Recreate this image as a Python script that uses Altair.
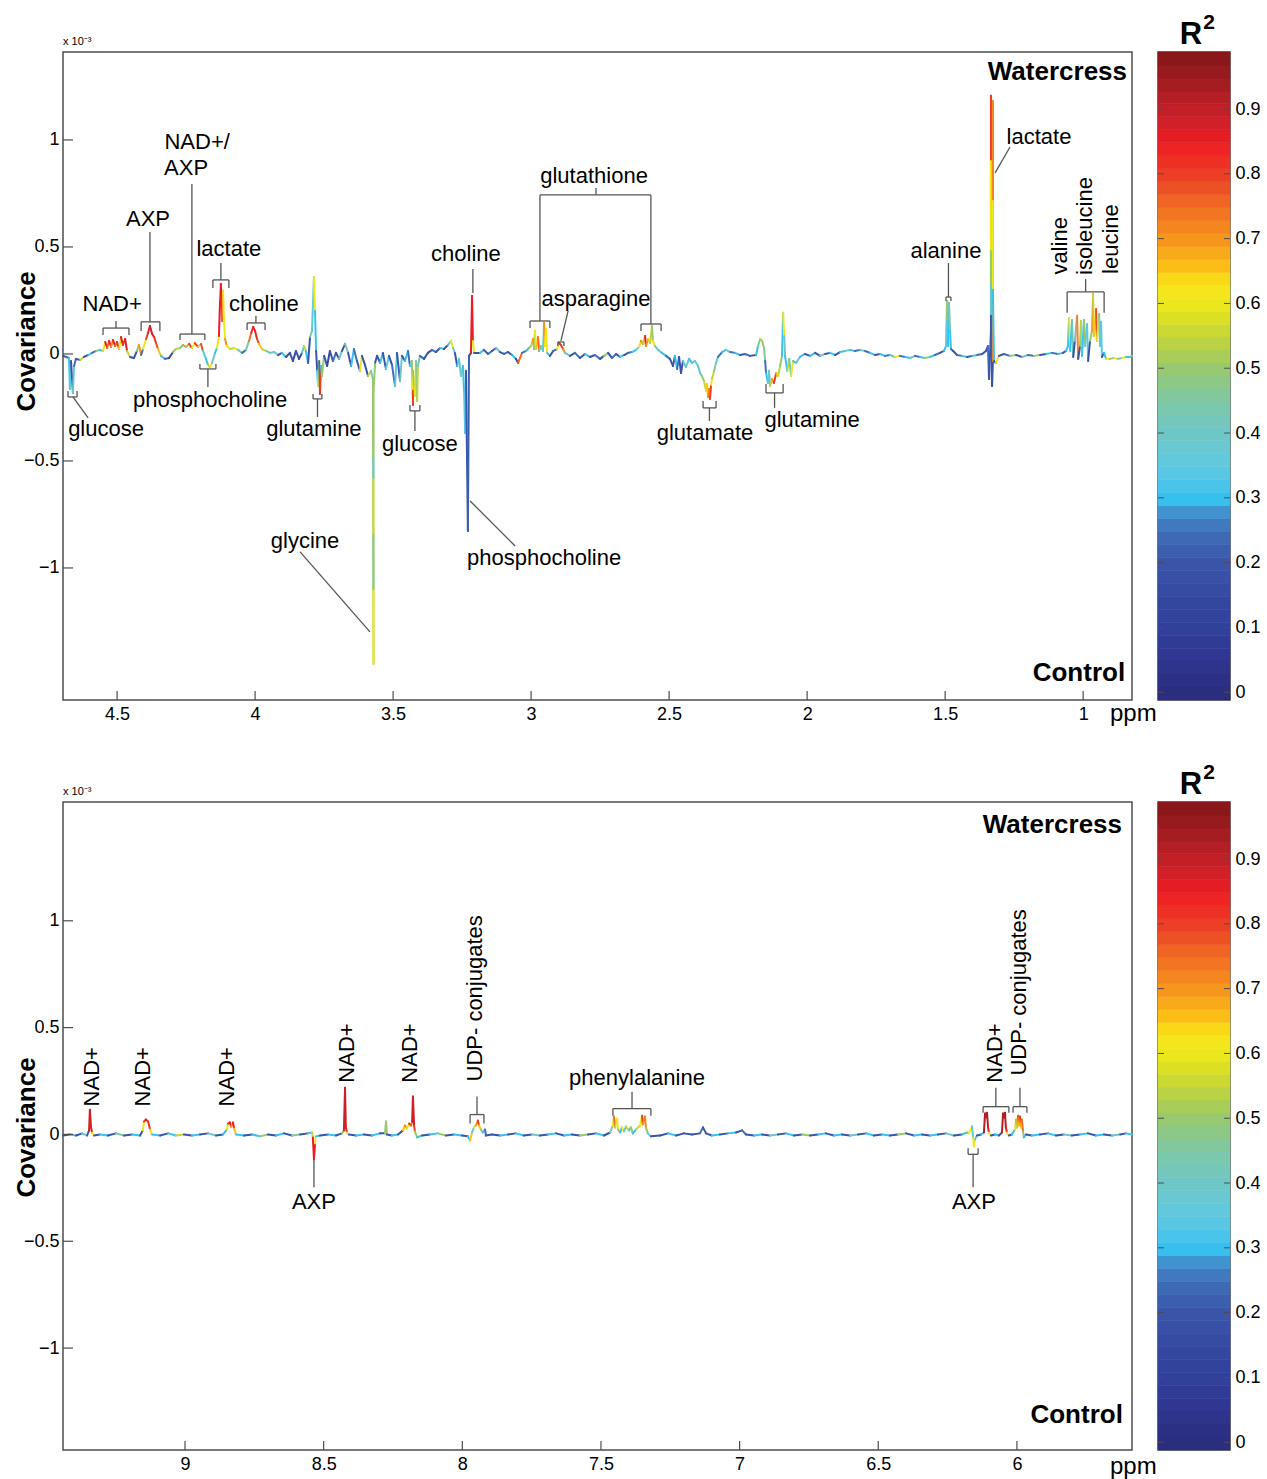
import altair as alt
import pandas as pd

FONT = "Liberation Sans"
W, H = 1069, 648
CB_W = 72

# ---------------- top panel trace (ppm, covariance x1e-3, R2) ----------------
TOP_PPM = [
    4.695, 4.685, 4.674, 4.671, 4.667, 4.660, 4.656, 4.649, 4.634, 4.620,
    4.605, 4.591, 4.576, 4.562, 4.551, 4.543, 4.536, 4.529, 4.522, 4.515,
    4.507, 4.500, 4.493, 4.486, 4.479, 4.471, 4.464, 4.453, 4.439, 4.428,
    4.421, 4.413, 4.406, 4.395, 4.388, 4.381, 4.373, 4.366, 4.359, 4.352,
    4.341, 4.326, 4.312, 4.297, 4.287, 4.272, 4.261, 4.250, 4.239, 4.229,
    4.218, 4.207, 4.196, 4.189, 4.178, 4.171, 4.163, 4.156, 4.145, 4.138,
    4.131, 4.127, 4.124, 4.120, 4.116, 4.113, 4.109, 4.102, 4.091, 4.076,
    4.062, 4.047, 4.033, 4.022, 4.014, 4.007, 4.000, 3.993, 3.986, 3.975,
    3.960, 3.946, 3.931, 3.917, 3.903, 3.888, 3.874, 3.863, 3.852, 3.841,
    3.830, 3.823, 3.816, 3.808, 3.801, 3.794, 3.790, 3.787, 3.783, 3.779,
    3.775, 3.772, 3.768, 3.765, 3.761, 3.758, 3.750, 3.739, 3.729, 3.718,
    3.707, 3.696, 3.685, 3.674, 3.663, 3.652, 3.642, 3.631, 3.620, 3.613,
    3.602, 3.591, 3.580, 3.573, 3.571, 3.571, 3.571, 3.571, 3.571, 3.571,
    3.565, 3.558, 3.547, 3.537, 3.526, 3.515, 3.504, 3.493, 3.486, 3.475,
    3.468, 3.457, 3.446, 3.439, 3.432, 3.428, 3.428, 3.428, 3.421, 3.417,
    3.413, 3.410, 3.403, 3.388, 3.374, 3.359, 3.345, 3.330, 3.316, 3.301,
    3.290, 3.283, 3.276, 3.268, 3.261, 3.254, 3.247, 3.243, 3.239, 3.236,
    3.229, 3.225, 3.218, 3.214, 3.211, 3.207, 3.185, 3.171, 3.156, 3.142,
    3.127, 3.113, 3.098, 3.084, 3.069, 3.055, 3.047, 3.033, 3.018, 3.008,
    3.000, 2.993, 2.989, 2.986, 2.982, 2.975, 2.971, 2.964, 2.957, 2.953,
    2.950, 2.946, 2.942, 2.932, 2.920, 2.906, 2.899, 2.892, 2.884, 2.877,
    2.859, 2.841, 2.823, 2.805, 2.787, 2.769, 2.750, 2.736, 2.721, 2.707,
    2.692, 2.678, 2.663, 2.649, 2.634, 2.620, 2.609, 2.602, 2.595, 2.587,
    2.584, 2.577, 2.569, 2.562, 2.559, 2.551, 2.540, 2.526, 2.511, 2.497,
    2.486, 2.479, 2.471, 2.464, 2.457, 2.450, 2.439, 2.428, 2.417, 2.406,
    2.395, 2.388, 2.381, 2.374, 2.366, 2.363, 2.359, 2.355, 2.352, 2.348,
    2.345, 2.337, 2.330, 2.323, 2.308, 2.294, 2.279, 2.261, 2.243, 2.225,
    2.207, 2.185, 2.178, 2.170, 2.163, 2.156, 2.152, 2.149, 2.142, 2.138,
    2.134, 2.127, 2.120, 2.112, 2.105, 2.098, 2.091, 2.087, 2.083, 2.080,
    2.072, 2.065, 2.058, 2.051, 2.040, 2.026, 2.008, 1.989, 1.971, 1.953,
    1.935, 1.917, 1.899, 1.881, 1.863, 1.845, 1.827, 1.808, 1.790, 1.772,
    1.754, 1.736, 1.718, 1.700, 1.682, 1.664, 1.645, 1.627, 1.609, 1.591,
    1.573, 1.555, 1.537, 1.519, 1.504, 1.497, 1.493, 1.493, 1.489, 1.486,
    1.482, 1.479, 1.471, 1.457, 1.439, 1.421, 1.402, 1.384, 1.366, 1.352,
    1.345, 1.341, 1.334, 1.334, 1.334, 1.334, 1.334, 1.334, 1.330, 1.327,
    1.327, 1.327, 1.327, 1.323, 1.316, 1.305, 1.287, 1.265, 1.243, 1.221,
    1.200, 1.178, 1.156, 1.134, 1.113, 1.091, 1.073, 1.062, 1.055, 1.051,
    1.047, 1.040, 1.036, 1.030, 1.022, 1.018, 1.011, 1.008, 1.004, 0.997,
    0.993, 0.986, 0.982, 0.975, 0.968, 0.964, 0.961, 0.953, 0.950, 0.942,
    0.939, 0.935, 0.932, 0.924, 0.917, 0.903, 0.888, 0.874, 0.859, 0.845,
    0.830, 0.823,
]
TOP_COV = [
    -0.009, -0.014, -0.019, -0.164, -0.033, -0.182, -0.056, -0.023, -0.028, -0.014,
    -0.005, 0.005, 0.014, 0.019, 0.014, 0.056, 0.028, 0.061, 0.033, 0.065,
    0.037, 0.056, 0.023, 0.079, 0.042, 0.070, 0.014, -0.014, -0.019, 0.014,
    0.042, -0.005, 0.023, 0.070, 0.098, 0.131, 0.093, 0.079, 0.051, 0.023,
    -0.009, -0.023, -0.019, 0.009, 0.023, 0.028, 0.042, 0.033, 0.047, 0.028,
    0.051, 0.033, 0.047, 0.014, -0.023, -0.051, -0.061, -0.042, 0.005, 0.028,
    0.084, 0.248, 0.327, 0.154, 0.294, 0.164, 0.070, 0.037, 0.023, 0.028,
    0.019, 0.005, 0.019, 0.061, 0.098, 0.126, 0.107, 0.070, 0.047, 0.023,
    0.014, 0.005, 0.009, -0.005, 0.005, -0.014, 0.005, -0.033, 0.014, -0.023,
    0.005, 0.037, 0.014, -0.042, 0.079, 0.107, 0.248, 0.360, 0.201, 0.014,
    -0.079, -0.150, -0.033, -0.187, -0.056, -0.103, -0.009, -0.056, 0.014, -0.033,
    0.005, -0.023, 0.014, 0.047, 0.005, -0.056, 0.023, -0.033, -0.079, -0.009,
    -0.051, -0.103, -0.079, -0.117, -1.449, -1.098, -0.841, -0.579, -0.486, -0.173,
    -0.040, -0.009, -0.042, 0.005, -0.070, -0.009, -0.051, -0.150, 0.005, -0.126,
    -0.009, -0.033, 0.014, -0.056, -0.033, -0.238, -0.164, -0.079, -0.196, -0.033,
    -0.220, -0.056, -0.009, -0.023, 0.005, 0.019, 0.009, 0.028, 0.023, 0.042,
    0.061, 0.028, 0.005, -0.056, -0.023, -0.103, -0.056, -0.173, -0.369, -0.079,
    -0.827, -0.009, 0.005, 0.271, 0.061, 0.005, 0.005, 0.019, 0.000, 0.014,
    0.028, 0.009, 0.000, 0.009, -0.005, -0.023, -0.042, 0.005, 0.014, 0.028,
    0.037, 0.070, 0.023, 0.107, 0.023, 0.079, 0.014, 0.037, 0.014, 0.145,
    0.037, 0.117, 0.005, -0.009, 0.014, 0.023, 0.051, 0.042, 0.023, 0.005,
    -0.009, 0.005, -0.019, 0.000, -0.014, -0.005, -0.023, -0.009, 0.005, -0.019,
    0.000, -0.014, -0.005, 0.005, 0.009, 0.019, 0.033, 0.061, 0.047, 0.084,
    0.037, 0.070, 0.051, 0.131, 0.061, 0.037, 0.019, 0.005, -0.009, -0.023,
    -0.056, -0.009, -0.070, -0.014, -0.089, -0.033, -0.061, -0.023, -0.042, -0.033,
    -0.056, -0.089, -0.103, -0.126, -0.173, -0.140, -0.201, -0.164, -0.210, -0.145,
    -0.117, -0.079, -0.042, -0.014, 0.009, 0.019, 0.009, 0.005, -0.005, 0.000,
    -0.009, -0.005, 0.037, 0.070, 0.061, 0.028, -0.033, -0.089, -0.136, -0.079,
    -0.150, -0.117, -0.136, -0.089, -0.103, -0.056, -0.009, 0.192, 0.084, -0.009,
    -0.079, -0.023, -0.103, -0.033, -0.042, -0.014, 0.000, -0.009, 0.005, -0.009,
    0.000, 0.005, -0.005, 0.009, 0.014, 0.019, 0.014, 0.019, 0.014, 0.005,
    -0.005, 0.000, -0.009, -0.005, -0.014, -0.009, -0.014, -0.019, -0.009, -0.014,
    -0.019, -0.014, -0.005, 0.005, 0.014, 0.037, 0.248, 0.154, 0.037, 0.238,
    0.107, 0.023, 0.014, -0.005, -0.009, -0.014, -0.009, -0.005, 0.000, 0.014,
    0.037, -0.117, 0.107, 1.206, 0.902, 0.481, 0.327, 0.178, -0.150, -0.033,
    1.182, 0.715, 0.300, -0.033, -0.042, -0.009, 0.000, -0.009, -0.005, -0.014,
    -0.005, -0.009, -0.005, 0.000, 0.005, 0.000, 0.005, 0.014, 0.037, 0.168,
    0.014, 0.159, -0.014, 0.061, 0.178, -0.023, 0.037, 0.154, -0.009, 0.159,
    0.037, 0.140, -0.033, 0.061, 0.107, 0.280, 0.084, 0.210, 0.061, 0.187,
    0.037, 0.150, -0.014, 0.005, -0.023, -0.023, -0.019, -0.023, -0.019, -0.014,
    -0.014, -0.009,
]
TOP_R2 = [
    .2, .25, .3, .35, .2, .38, .25, .2, .55, .2,
    .3, .25, .45, .3, .6, .85, .75, .85, .7, .85,
    .75, .82, .6, .88, .8, .86, .55, .2, .2, .5,
    .7, .25, .6, .8, .85, .88, .85, .82, .78, .65,
    .3, .2, .15, .5, .55, .45, .7, .5, .8, .6,
    .8, .55, .78, .35, .3, .55, .62, .4, .3, .6,
    .85, .8, .85, .75, .62, .6, .7, .6, .55, .6,
    .4, .25, .45, .75, .82, .85, .83, .78, .65, .55,
    .45, .35, .4, .2, .3, .15, .2, .15, .2, .15,
    .35, .55, .3, .2, .45, .35, .4, .6, .3, .2,
    .3, .6, .25, .8, .3, .5, .2, .15, .2, .25,
    .15, .4, .2, .45, .2, .3, .25, .2, .6, .2,
    .2, .55, .45, .5, .63, .48, .56, .38, .5, .5,
    .2, .2, .3, .2, .35, .2, .25, .35, .2, .4,
    .2, .3, .25, .35, .5, .8, .6, .5, .6, .45,
    .55, .4, .25, .2, .2, .25, .2, .3, .2, .35,
    .6, .4, .2, .3, .4, .45, .3, .35, .33, .2,
    .22, .2, .85, .85, .62, .2, .3, .2, .25, .2,
    .35, .2, .25, .2, .3, .15, .75, .25, .3, .45,
    .55, .7, .5, .62, .65, .75, .4, .5, .35, .7,
    .6, .62, .3, .2, .25, .6, .82, .8, .7, .4,
    .2, .25, .2, .3, .2, .25, .2, .5, .2, .25,
    .2, .3, .2, .25, .3, .35, .6, .72, .55, .85,
    .7, .65, .55, .5, .6, .45, .35, .3, .25, .2,
    .2, .3, .25, .2, .2, .35, .4, .3, .35, .4,
    .35, .4, .5, .55, .62, .65, .72, .7, .8, .62,
    .55, .45, .35, .25, .3, .4, .25, .3, .2, .25,
    .2, .3, .45, .55, .5, .45, .25, .3, .35, .4,
    .55, .7, .8, .65, .55, .5, .3, .62, .4, .3,
    .55, .4, .6, .3, .4, .3, .2, .3, .2, .4,
    .2, .3, .2, .3, .4, .3, .25, .35, .25, .3,
    .2, .3, .25, .35, .6, .25, .3, .4, .25, .3,
    .5, .3, .25, .2, .3, .35, .5, .35, .3, .45,
    .3, .25, .2, .25, .3, .2, .3, .25, .2, .2,
    .25, .2, .2, .8, .62, .5, .38, .2, .2, .72,
    .72, .6, .3, .2, .6, .2, .25, .5, .2, .4,
    .25, .5, .2, .3, .25, .3, .2, .3, .3, .6,
    .3, .4, .2, .4, .72, .2, .4, .55, .3, .5,
    .4, .35, .2, .5, .7, .55, .65, .78, .6, .45,
    .35, .35, .2, .3, .6, .5, .6, .4, .6, .3,
    .4, .3,
]

# ---------------- bottom panel trace ----------------
BOT_PPM = [
    9.440, 9.415, 9.393, 9.371, 9.353, 9.346, 9.343, 9.339, 9.335, 9.328,
    9.307, 9.278, 9.249, 9.220, 9.191, 9.162, 9.152, 9.148, 9.141, 9.133,
    9.126, 9.119, 9.090, 9.061, 9.033, 9.004, 8.975, 8.946, 8.917, 8.888,
    8.863, 8.849, 8.845, 8.838, 8.834, 8.827, 8.823, 8.816, 8.787, 8.758,
    8.730, 8.701, 8.672, 8.643, 8.614, 8.585, 8.557, 8.542, 8.539, 8.535,
    8.531, 8.528, 8.513, 8.484, 8.456, 8.434, 8.427, 8.423, 8.420, 8.416,
    8.409, 8.383, 8.355, 8.326, 8.297, 8.279, 8.275, 8.272, 8.254, 8.232,
    8.214, 8.207, 8.200, 8.192, 8.185, 8.181, 8.178, 8.174, 8.171, 8.163,
    8.145, 8.117, 8.088, 8.059, 8.030, 8.001, 7.980, 7.972, 7.965, 7.958,
    7.951, 7.944, 7.940, 7.933, 7.926, 7.918, 7.915, 7.893, 7.864, 7.835,
    7.807, 7.778, 7.749, 7.720, 7.691, 7.662, 7.633, 7.605, 7.576, 7.547,
    7.518, 7.489, 7.467, 7.457, 7.453, 7.449, 7.442, 7.439, 7.431, 7.424,
    7.417, 7.410, 7.399, 7.392, 7.385, 7.374, 7.359, 7.352, 7.349, 7.341,
    7.338, 7.331, 7.320, 7.287, 7.258, 7.229, 7.201, 7.172, 7.143, 7.132,
    7.121, 7.100, 7.071, 7.042, 7.013, 6.991, 6.977, 6.948, 6.919, 6.891,
    6.862, 6.833, 6.804, 6.775, 6.746, 6.717, 6.689, 6.660, 6.631, 6.602,
    6.573, 6.544, 6.516, 6.487, 6.458, 6.429, 6.400, 6.371, 6.342, 6.314,
    6.285, 6.256, 6.227, 6.198, 6.180, 6.173, 6.162, 6.158, 6.155, 6.151,
    6.144, 6.129, 6.119, 6.115, 6.112, 6.108, 6.104, 6.101, 6.094, 6.079,
    6.065, 6.054, 6.050, 6.047, 6.043, 6.040, 6.036, 6.029, 6.018, 6.007,
    6.003, 6.000, 5.996, 5.993, 5.989, 5.985, 5.982, 5.978, 5.975, 5.967,
    5.946, 5.917, 5.888, 5.859, 5.831, 5.802, 5.773, 5.744, 5.715, 5.686,
    5.657, 5.628, 5.607, 5.585,
]
BOT_COV = [
    -0.005, 0.000, -0.005, 0.005, -0.005, 0.019, 0.116, 0.033, 0.009, -0.005,
    0.000, -0.005, 0.005, -0.005, 0.000, -0.005, 0.019, 0.060, 0.070, 0.060,
    0.023, 0.000, -0.005, 0.005, -0.005, 0.000, -0.005, 0.000, 0.005, -0.005,
    0.000, 0.023, 0.051, 0.056, 0.037, 0.056, 0.028, 0.000, -0.005, 0.000,
    -0.009, 0.000, -0.005, 0.005, -0.005, 0.000, 0.005, 0.009, -0.014, -0.116,
    -0.042, -0.009, -0.005, 0.000, -0.005, 0.005, 0.019, 0.219, 0.033, 0.009,
    0.000, -0.005, 0.000, -0.005, 0.005, 0.005, 0.060, 0.000, -0.005, 0.000,
    0.019, 0.042, 0.028, 0.051, 0.042, 0.060, 0.177, 0.042, 0.014, -0.014,
    -0.005, 0.000, 0.005, -0.005, 0.000, -0.005, -0.009, -0.028, 0.009, 0.033,
    0.042, 0.065, 0.042, 0.023, 0.009, 0.023, -0.005, 0.000, -0.005, 0.000,
    0.005, -0.005, 0.000, -0.005, 0.000, 0.005, -0.005, 0.000, -0.005, 0.000,
    0.005, -0.005, 0.009, 0.042, 0.084, 0.033, 0.074, 0.023, 0.009, 0.033,
    0.014, 0.037, 0.019, 0.033, 0.005, 0.023, 0.042, 0.088, 0.047, 0.084,
    0.033, 0.005, -0.009, -0.005, 0.005, -0.005, 0.005, 0.000, 0.005, 0.033,
    0.005, -0.005, 0.000, 0.005, 0.009, 0.019, 0.000, -0.005, 0.000, -0.005,
    0.000, 0.005, -0.005, 0.000, -0.005, 0.000, 0.005, -0.005, 0.000, -0.005,
    0.000, 0.005, -0.005, 0.000, -0.005, 0.000, 0.005, -0.005, 0.000, -0.005,
    0.000, 0.005, -0.005, 0.000, 0.009, 0.005, 0.037, -0.014, -0.056, -0.023,
    -0.005, 0.000, 0.009, 0.098, 0.079, 0.102, 0.033, 0.009, -0.005, 0.000,
    -0.005, 0.009, 0.098, 0.079, 0.102, 0.033, 0.009, -0.005, 0.000, 0.023,
    0.070, 0.033, 0.088, 0.042, 0.084, 0.033, 0.070, 0.014, -0.014, 0.000,
    -0.005, 0.000, 0.005, -0.005, 0.000, -0.005, 0.000, 0.005, -0.005, 0.000,
    -0.005, 0.000, 0.005, 0.000,
]
BOT_R2 = [
    .2, .3, .2, .4, .2, .88, .88, .85, .6, .2,
    .3, .2, .45, .2, .3, .2, .6, .82, .85, .82,
    .6, .3, .2, .3, .55, .2, .3, .2, .4, .2,
    .3, .6, .82, .85, .7, .85, .65, .3, .2, .3,
    .5, .2, .3, .2, .45, .2, .3, .55, .85, .85,
    .6, .3, .2, .3, .2, .5, .88, .88, .85, .6,
    .2, .3, .2, .3, .2, .5, .5, .2, .3, .2,
    .65, .72, .6, .82, .75, .88, .88, .8, .5, .3,
    .2, .3, .5, .2, .3, .2, .3, .65, .4, .6,
    .7, .8, .65, .45, .3, .25, .2, .2, .3, .2,
    .3, .2, .4, .2, .3, .2, .3, .2, .5, .2,
    .3, .2, .45, .6, .75, .55, .62, .5, .3, .6,
    .35, .55, .35, .5, .3, .55, .6, .8, .7, .72,
    .5, .35, .2, .2, .3, .2, .2, .2, .25, .2,
    .2, .3, .2, .3, .2, .25, .2, .3, .2, .4,
    .2, .3, .2, .5, .2, .3, .2, .3, .2, .4,
    .2, .3, .2, .3, .2, .5, .2, .3, .2, .3,
    .2, .4, .2, .3, .5, .6, .35, .62, .62, .35,
    .2, .3, .92, .92, .9, .92, .85, .6, .2, .3,
    .2, .92, .92, .9, .92, .85, .6, .2, .3, .6,
    .7, .55, .78, .65, .8, .6, .75, .5, .3, .2,
    .3, .2, .3, .2, .4, .2, .3, .2, .3, .2,
    .4, .2, .3, .2,
]

# ---------------- annotations ----------------
TOP_LABEL_TEXT = ["NAD+", "AXP", "NAD+/", "AXP", "lactate", "choline", "phosphocholine",
                  "glucose", "glutamine", "glucose", "glycine", "phosphocholine", "choline",
                  "glutathione", "asparagine", "glutamate", "glutamine", "alanine", "lactate"]
TOP_LABEL_PPM = [4.518, 4.388, 4.210, 4.250, 4.095, 3.968, 4.163, 4.540, 3.787, 3.403,
                 3.819, 2.953, 3.236, 2.772, 2.765, 2.370, 1.982, 1.497, 1.160]
TOP_LABEL_COV = [0.234, 0.631, 0.991, 0.869, 0.491, 0.234, -0.215, -0.350, -0.350, -0.421,
                 -0.874, -0.953, 0.467, 0.832, 0.257, -0.369, -0.308, 0.481, 1.014]
TOP_VLABEL_TEXT = ["valine", "isoleucine", "leucine"]
TOP_VLABEL_PPM = [1.084, 0.993, 0.899]
TOP_VLABEL_COV = [0.505, 0.598, 0.537]
TOP_CORNER_TEXT = ["Watercress", "Control"]
TOP_CORNER_PPM = [0.841, 0.848]
TOP_CORNER_COV = [1.318, -1.491]

TOP_BRACKET_A = [4.678, 4.551, 4.413, 4.272, 4.153, 4.029, 4.200, 3.790, 3.439, 3.004,
                 2.602, 2.903, 2.377, 2.149, 1.497, 1.058]
TOP_BRACKET_B = [4.645, 4.457, 4.345, 4.182, 4.095, 3.964, 4.142, 3.758, 3.403, 2.932,
                 2.529, 2.881, 2.330, 2.087, 1.479, 0.924]
TOP_BRACKET_BAR = [-0.201, 0.121, 0.150, 0.093, 0.346, 0.145, -0.070, -0.210, -0.266, 0.154,
                   0.140, 0.056, -0.252, -0.182, 0.266, 0.290]
TOP_BRACKET_TIP = [-0.173, 0.089, 0.107, 0.065, 0.308, 0.112, -0.047, -0.187, -0.238, 0.121,
                   0.107, 0.037, -0.220, -0.140, 0.248, 0.192]
TOP_LEAD_X1 = [4.660, 4.504, 4.381, 4.229, 4.124, 3.997, 4.171, 3.774, 3.421, 3.837, 3.221,
               3.211, 2.968, 2.968, 2.566, 2.765, 2.866, 2.354, 2.118, 1.488, 1.265, 0.991]
TOP_LEAD_Y1 = [-0.201, 0.121, 0.150, 0.093, 0.346, 0.145, -0.070, -0.210, -0.266, -0.925, -0.687,
               0.397, 0.743, 0.743, 0.743, 0.743, 0.201, -0.252, -0.182, 0.266, 0.967, 0.290]
TOP_LEAD_X2 = [4.605, 4.504, 4.381, 4.229, 4.124, 3.997, 4.171, 3.774, 3.421, 3.584, 3.058,
               3.211, 2.566, 2.968, 2.566, 2.765, 2.892, 2.354, 2.118, 1.488, 1.319, 0.991]
TOP_LEAD_Y2 = [-0.299, 0.154, 0.570, 0.794, 0.425, 0.178, -0.154, -0.294, -0.360, -1.299, -0.897,
               0.285, 0.743, 0.154, 0.140, 0.776, 0.061, -0.313, -0.252, 0.425, 0.846, 0.350]

BOT_LABEL_TEXT = ["phenylalanine", "AXP", "AXP"]
BOT_LABEL_PPM = [7.370, 8.535, 6.155]
BOT_LABEL_COV = [0.265, -0.316, -0.316]
BOT_VLABEL_TEXT = ["NAD+", "NAD+", "NAD+", "NAD+", "NAD+", "UDP- conjugates", "NAD+", "UDP- conjugates"]
BOT_VLABEL_PPM = [9.335, 9.152, 8.849, 8.416, 8.189, 7.954, 6.079, 5.993]
BOT_VLABEL_COV = [0.270, 0.270, 0.270, 0.381, 0.381, 0.637, 0.381, 0.665]
BOT_CORNER_TEXT = ["Watercress", "Control"]
BOT_CORNER_PPM = [5.621, 5.618]
BOT_CORNER_COV = [1.447, -1.312]

BOT_BRACKET_A = [7.972, 7.457, 6.176, 6.122, 6.014]
BOT_BRACKET_B = [7.922, 7.320, 6.140, 6.029, 5.964]
BOT_BRACKET_BAR = [0.093, 0.121, -0.093, 0.130, 0.130]
BOT_BRACKET_TIP = [0.051, 0.088, -0.065, 0.102, 0.102]
BOT_LEAD_X1 = [7.947, 7.388, 8.535, 6.158, 6.076, 5.989]
BOT_LEAD_Y1 = [0.093, 0.121, -0.116, -0.093, 0.130, 0.130]
BOT_LEAD_X2 = [7.947, 7.388, 8.535, 6.158, 6.076, 5.989]
BOT_LEAD_Y2 = [0.177, 0.200, -0.247, -0.247, 0.219, 0.219]

TOP_XTICKS = [4.5, 4, 3.5, 3, 2.5, 2, 1.5, 1]
BOT_XTICKS = [9, 8.5, 8, 7.5, 7, 6.5, 6]
YTICKS = [-1, -0.5, 0, 0.5, 1]
CB_TICKS = [0, 0.1, 0.2, 0.3, 0.4, 0.5, 0.6, 0.7, 0.8, 0.9]

TOP_XDOM = [0.823, 4.696]
TOP_YDOM = [-1.617, 1.411]
BOT_XDOM = [5.585, 9.440]
BOT_YDOM = [-1.477, 1.556]
CB_DOM = [-0.012, 0.988]

STOPS = [0.0, 0.05, 0.1, 0.15, 0.2, 0.25, 0.28, 0.3, 0.33, 0.37, 0.4, 0.45, 0.5, 0.53,
         0.57, 0.6, 0.63, 0.65, 0.68, 0.7, 0.75, 0.78, 0.82, 0.85, 0.88, 0.92, 0.96, 1.0]
COLORS = ["#2b2d7f", "#2f3590", "#31409a", "#3549a1", "#3a55a8", "#3f6fb8", "#4196d2",
          "#36c3f1", "#56c7e8", "#67c9d6", "#6ec7c6", "#7ec8a5", "#97c96f", "#b3cf4a",
          "#d5dd28", "#ede81c", "#f8e51a", "#fcc514", "#f8a81a", "#f7941d", "#f16d22",
          "#ec4e25", "#ee2d24", "#ec1c24", "#cf2027", "#b21f24", "#961a1e", "#7c1416"]

assert len(TOP_PPM) == len(TOP_COV) == len(TOP_R2)
assert len(BOT_PPM) == len(BOT_COV) == len(BOT_R2)
assert len(STOPS) == len(COLORS)

color_scale = alt.Scale(domain=STOPS, range=COLORS, interpolate="rgb", clamp=True)
AX_COLOR = "#4d4d4d"


def seg_frame(ppm, cov, r2):
    return pd.DataFrame({"x": ppm[:-1], "x2": ppm[1:], "y": cov[:-1], "y2": cov[1:], "r2": r2[:-1]})


def bracket_frame(a, b, bar, tip, lx1, ly1, lx2, ly2):
    rows = []
    for p, q, m, t in zip(a, b, bar, tip):
        rows.append((p, q, m, m))
        rows.append((p, p, m, t))
        rows.append((q, q, m, t))
    for p, m, q, t in zip(lx1, ly1, lx2, ly2):
        rows.append((p, q, m, t))
    return pd.DataFrame(rows, columns=["x", "x2", "y", "y2"])


def panel(ppm, cov, r2, xdom, ydom, xticks, brk, labels, vlabels, corners, title_y, ppm_y):
    xs = alt.Scale(domain=xdom, reverse=True, zero=False, nice=False)
    ys = alt.Scale(domain=ydom, zero=False, nice=False)
    xax = alt.Axis(values=xticks, labelExpr="toString(datum.value)", ticks=False, domain=False,
                   grid=False, labelFont=FONT, labelFontSize=18, labelColor="black",
                   labelPadding=5, title=None)
    yax = alt.Axis(values=YTICKS, labelExpr="replace(toString(datum.value), '-', '\u2212')",
                   ticks=False, domain=False, grid=False, labelFont=FONT, labelFontSize=18,
                   labelColor="black", labelPadding=4, title="Covariance", titleFont=FONT,
                   titleFontSize=26, titleFontWeight="bold", titleColor="black", titleX=-37,
                   titleY=title_y, titleAngle=270, titleAlign="center", titleBaseline="middle")
    trace = alt.Chart(seg_frame(ppm, cov, r2)).mark_rule(strokeWidth=2, strokeCap="round").encode(
        x=alt.X("x:Q", scale=xs, axis=xax), x2="x2:Q",
        y=alt.Y("y:Q", scale=ys, axis=yax), y2="y2:Q",
        color=alt.Color("r2:Q", scale=color_scale, legend=None),
    )
    brackets = alt.Chart(brk).mark_rule(color="#555555", strokeWidth=1.3).encode(
        x=alt.X("x:Q", scale=xs, axis=None), x2="x2:Q",
        y=alt.Y("y:Q", scale=ys, axis=None), y2="y2:Q",
    )
    lab = alt.Chart(pd.DataFrame({"x": labels[1], "y": labels[2], "t": labels[0]})).mark_text(
        font=FONT, fontSize=22, color="black", align="center", baseline="middle"
    ).encode(x=alt.X("x:Q", scale=xs, axis=None), y=alt.Y("y:Q", scale=ys, axis=None), text="t:N")
    vlab = alt.Chart(pd.DataFrame({"x": vlabels[1], "y": vlabels[2], "t": vlabels[0]})).mark_text(
        font=FONT, fontSize=22, color="black", align="center", baseline="middle", angle=270
    ).encode(x=alt.X("x:Q", scale=xs, axis=None), y=alt.Y("y:Q", scale=ys, axis=None), text="t:N")
    corner = alt.Chart(pd.DataFrame({"x": corners[1], "y": corners[2], "t": corners[0]})).mark_text(
        font=FONT, fontSize=26, fontWeight="bold", color="black", align="right", baseline="middle"
    ).encode(x=alt.X("x:Q", scale=xs, axis=None), y=alt.Y("y:Q", scale=ys, axis=None), text="t:N")
    ytk = alt.Chart(pd.DataFrame({"y": YTICKS})).mark_rule(color=AX_COLOR, strokeWidth=1.2).encode(
        y=alt.Y("y:Q", scale=ys, axis=None), x=alt.value(0), x2=alt.value(10))
    xtk = alt.Chart(pd.DataFrame({"x": xticks})).mark_rule(color=AX_COLOR, strokeWidth=1.2).encode(
        x=alt.X("x:Q", scale=xs, axis=None), y=alt.value(H), y2=alt.value(H - 9))
    note = alt.Chart(pd.DataFrame({"t": ["x 10\u207b\u00b3"]})).mark_text(
        font=FONT, fontSize=11, color="black", align="left", baseline="middle"
    ).encode(text="t:N", x=alt.value(0), y=alt.value(-10))
    unit = alt.Chart(pd.DataFrame({"t": ["ppm"]})).mark_text(
        font=FONT, fontSize=24, color="black", align="left", baseline="middle"
    ).encode(text="t:N", x=alt.value(W - 22), y=alt.value(ppm_y))
    return alt.layer(trace, brackets, lab, vlab, corner, ytk, xtk, note, unit).resolve_axis(
        x="independent", y="independent").properties(width=W, height=H)


def colorbar():
    lo = [round(CB_DOM[0] + 0.02 * i, 4) for i in range(50)]
    df = pd.DataFrame({"lo": lo, "hi": [v + 0.02 for v in lo], "mid": [v + 0.01 for v in lo]})
    cbs = alt.Scale(domain=CB_DOM, zero=False, nice=False)
    bar = alt.Chart(df).mark_rect(strokeWidth=0.6).encode(
        y=alt.Y("lo:Q", scale=cbs, axis=alt.Axis(orient="right", values=CB_TICKS,
                labelExpr="toString(datum.value)", ticks=False, domain=False, grid=False,
                labelFont=FONT, labelFontSize=18, labelColor="black", labelPadding=5, title=None)),
        y2="hi:Q", x=alt.value(0), x2=alt.value(CB_W),
        color=alt.Color("mid:Q", scale=color_scale, legend=None),
        stroke=alt.Stroke("mid:Q", scale=color_scale, legend=None),
    )
    tl = alt.Chart(pd.DataFrame({"y": CB_TICKS})).mark_rule(color=AX_COLOR, strokeWidth=1).encode(
        y=alt.Y("y:Q", scale=cbs, axis=None), x=alt.value(0), x2=alt.value(6))
    tr = alt.Chart(pd.DataFrame({"y": CB_TICKS})).mark_rule(color=AX_COLOR, strokeWidth=1).encode(
        y=alt.Y("y:Q", scale=cbs, axis=None), x=alt.value(CB_W - 6), x2=alt.value(CB_W))
    r_txt = alt.Chart(pd.DataFrame({"t": ["R"]})).mark_text(
        font=FONT, fontSize=31, fontWeight="bold", color="black", align="center", baseline="middle"
    ).encode(text="t:N", x=alt.value(33), y=alt.value(-17))
    sup_txt = alt.Chart(pd.DataFrame({"t": ["2"]})).mark_text(
        font=FONT, fontSize=21, fontWeight="bold", color="black", align="center", baseline="middle"
    ).encode(text="t:N", x=alt.value(51), y=alt.value(-29))
    return alt.layer(bar, tl, tr, r_txt, sup_txt).resolve_axis(y="independent").properties(
        width=CB_W, height=H)


top_brk = bracket_frame(TOP_BRACKET_A, TOP_BRACKET_B, TOP_BRACKET_BAR, TOP_BRACKET_TIP,
                        TOP_LEAD_X1, TOP_LEAD_Y1, TOP_LEAD_X2, TOP_LEAD_Y2)
bot_brk = bracket_frame(BOT_BRACKET_A, BOT_BRACKET_B, BOT_BRACKET_BAR, BOT_BRACKET_TIP,
                        BOT_LEAD_X1, BOT_LEAD_Y1, BOT_LEAD_X2, BOT_LEAD_Y2)

top = panel(TOP_PPM, TOP_COV, TOP_R2, TOP_XDOM, TOP_YDOM, TOP_XTICKS, top_brk,
            (TOP_LABEL_TEXT, TOP_LABEL_PPM, TOP_LABEL_COV),
            (TOP_VLABEL_TEXT, TOP_VLABEL_PPM, TOP_VLABEL_COV),
            (TOP_CORNER_TEXT, TOP_CORNER_PPM, TOP_CORNER_COV), 289, 662)
bot = panel(BOT_PPM, BOT_COV, BOT_R2, BOT_XDOM, BOT_YDOM, BOT_XTICKS, bot_brk,
            (BOT_LABEL_TEXT, BOT_LABEL_PPM, BOT_LABEL_COV),
            (BOT_VLABEL_TEXT, BOT_VLABEL_PPM, BOT_VLABEL_COV),
            (BOT_CORNER_TEXT, BOT_CORNER_PPM, BOT_CORNER_COV), 325, 665)

chart = alt.concat(
    top, colorbar(), bot, colorbar(),
    columns=2, spacing={"row": 102, "column": 26}, bounds="flush",
).resolve_scale(
    x="independent", y="independent", color="shared"
).properties(
    padding={"left": 12, "top": 11, "right": 5, "bottom": 5},
    background="white",
).configure_view(stroke=AX_COLOR, strokeWidth=1.5)

chart.save("out.html", embed_options={"renderer": "svg", "actions": False})
